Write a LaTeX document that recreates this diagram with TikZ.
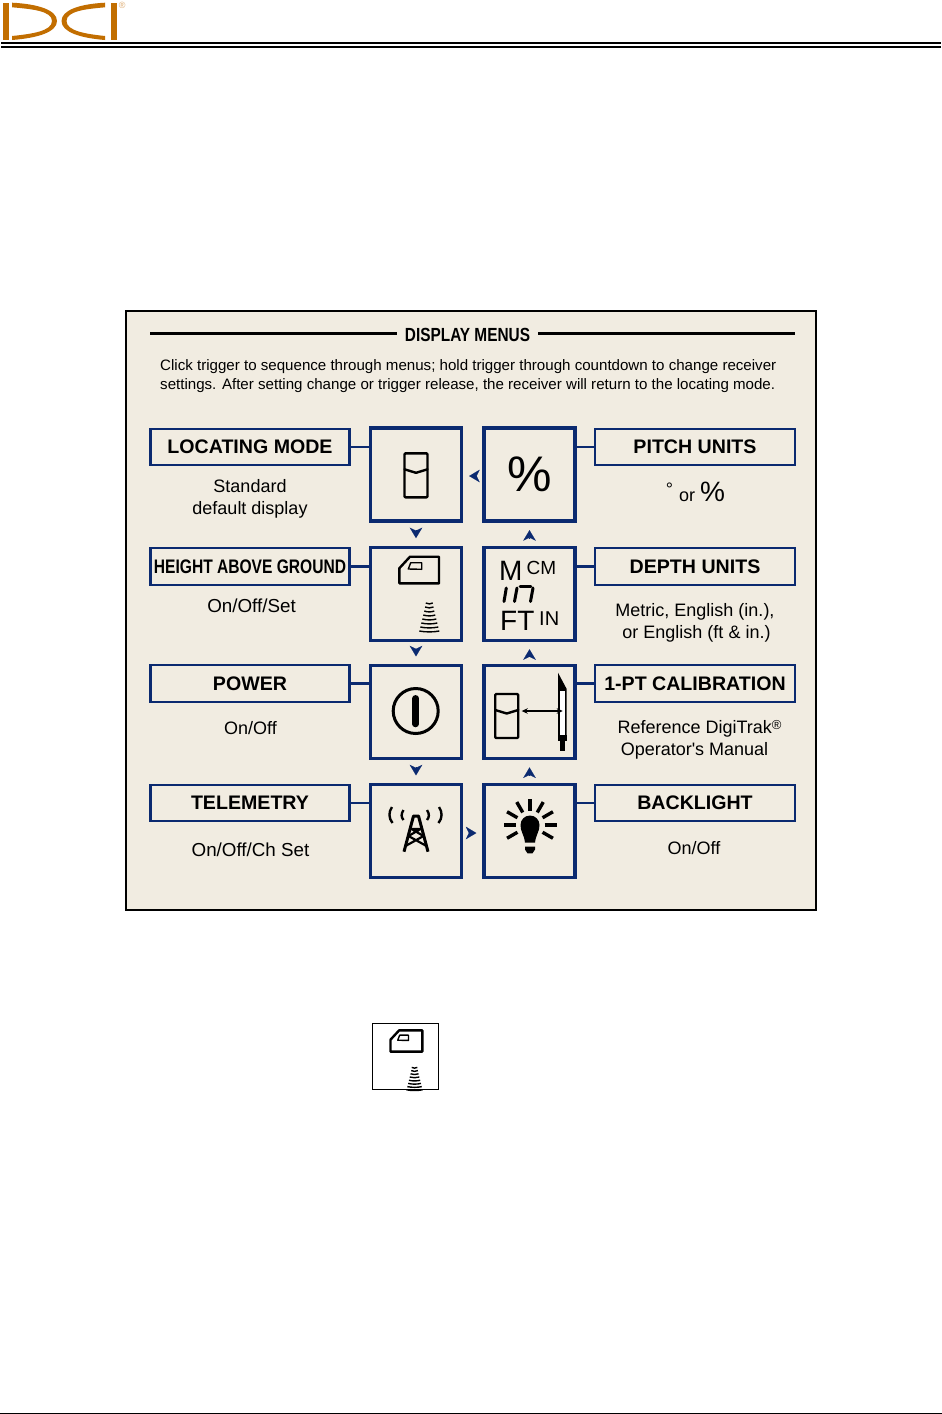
\documentclass[tikz,border=0pt]{standalone}
\usepackage{fontspec}
\setmainfont{Liberation Sans}[Ligatures=TeXOff]
\usetikzlibrary{arrows.meta,positioning,calc}
\definecolor{Navy}{HTML}{0B2A70}
\definecolor{Panel}{HTML}{F1ECE1}
\definecolor{Logo}{HTML}{C26E00}
\definecolor{LogoSoft}{HTML}{DDAA70}
\tikzset{
 menulabel/.style={draw=Navy, line width=2.3pt, fill=Panel, minimum width=199pt, minimum height=36.5pt, inner sep=0pt, font=\fontsize{19.6}{22}\selectfont\bfseries},
 rightlabel/.style={menulabel, line width=2pt, minimum width=200pt},
 iconbox/.style={draw=Navy, line width=3.3pt, minimum width=91pt, minimum height=93pt, inner sep=0pt},
 note/.style={align=center, inner sep=0pt, font=\fontsize{18}{22}\selectfont},
 widenote/.style={note, font=\fontsize{18.8}{22}\selectfont},
 link/.style={draw=Navy, line width=2.3pt},
 flow/.style={-{Stealth[length=10.5pt,width=12.5pt,inset=3pt]}, draw=Navy, fill=Navy, line width=.1pt, shorten <=#1, shorten >=#1},
 glyph/.style={draw=black, line width=2.4pt, line join=round, line cap=round},
 pics/receiver/.style={code={
  \draw[glyph,rounded corners=1pt] (-11.5,-22) rectangle (11.5,22);
  \draw[glyph] (-11.5,-6) -- (0,-2.5) -- (11.5,-6);
 }},
 pics/aboveground/.style={code={
  \draw[glyph] (-19.7,-1.7) -- (-9,-13.3) -- (20,-13.3) -- (20,13.3) -- (-19.7,13.3) -- cycle;
  \draw[glyph,line width=1.4pt] (-10.7,-1) -- (-8.3,-7.3) -- (2.7,-7.3) -- (2.7,-.7) -- cycle;
  \foreach \r/\h in {33/3.5,37/4.2,41/5,45/6,49/7,53/8,57/9,61/10}
   \draw[glyph,line width=1.4pt,line cap=butt] (10.3-\h,\r) .. controls (10.3-.4*\h,\r+1.2) and (10.3+.4*\h,\r+1.2) .. (10.3+\h,\r);
 }}
}
\begin{document}
\begin{tikzpicture}[x=1pt,y=-1pt]
\useasboundingbox (0,0) rectangle (942,1414);
\fill[white] (0,0) rectangle (942,1414);
% page header
\fill[Logo] (3,2.5) rectangle (9,40);
\fill[Logo] (111,2.5) rectangle (117,40);
\fill[Logo] (12,2.7) .. controls (38,4) and (57,10) .. (57,21) .. controls (57,32) and (38,38) .. (12,40) -- (12,36) .. controls (32,34) and (52,31) .. (52,21) .. controls (52,11) and (32,9) .. (12,7.3) -- cycle;
\fill[Logo] (105,2.7) .. controls (80,4) and (61.5,10) .. (61.5,21) .. controls (61.5,32) and (80,38) .. (105,40) -- (105,36) .. controls (86,34) and (66.5,31) .. (66.5,21) .. controls (66.5,11) and (86,9) .. (105,7.3) -- cycle;
\node[inner sep=0pt,text=LogoSoft,font=\fontsize{9}{9}\selectfont] (logoMark) at (122.3,5.7) {®};
\fill[black] (1,42) rectangle (941,44.2);
\fill[black] (1,46) rectangle (941,48);
\fill[black] (0,1412.5) rectangle (942,1413.5);
% panel
\node[draw=black,line width=1.1pt,fill=Panel,minimum width=690pt,minimum height=599pt,inner sep=0pt] (panel) at (471,610.5) {};
\node[inner sep=0pt,font=\fontsize{19}{22}\selectfont\bfseries] (title) at (467.5,335) {\scalebox{.81}[1]{DISPLAY MENUS}};
\coordinate (ruleLeft) at (150,333.5);
\coordinate (ruleRight) at (795,333.5);
\draw[line width=2.2pt] (ruleLeft) -- (397,333.5);
\draw[line width=2.2pt] (538,333.5) -- (ruleRight);
\node[align=left,inner sep=0pt,anchor=north west,font=\fontsize{15.1}{19}\selectfont] (intro) at (160,359) {Click trigger to sequence through menus; hold trigger through countdown to change receiver\\settings. After setting change or trigger release, the receiver will return to the locating mode.};
% left column
\node[menulabel] (lblLocating) at (250,447) {LOCATING MODE};
\node[menulabel] (lblHeight) at (250,566.5) {\scalebox{.795}[1]{HEIGHT ABOVE GROUND}};
\node[menulabel] (lblPower) at (250,683.5) {POWER};
\node[menulabel] (lblTelemetry) at (250,803) {TELEMETRY};
\node[note] (noteLocating) at (250,498.5) {Standard\\default display};
\node[widenote] (noteHeight) at (251.5,606) {On/Off/Set};
\node[note] (notePower) at (250.5,728) {On/Off};
\node[widenote] (noteTelemetry) at (250.5,850) {On/Off/Ch Set};
% icon boxes
\node[iconbox] (icnLocating) at (416,474.5) {};
\node[iconbox] (icnHeight) at (416,593.8) {};
\node[iconbox] (icnPower) at (416,711.8) {};
\node[iconbox] (icnTelemetry) at (416,831) {};
\node[iconbox] (icnPitch) at (529.5,474.5) {\fontsize{50}{50}\selectfont\%};
\node[iconbox] (icnDepth) at (529.5,593.8) {};
\node[iconbox] (icnCalib) at (529.5,711.8) {};
\node[iconbox] (icnBacklight) at (529.5,831) {};
% right column
\node[rightlabel] (lblPitch) at (695,447) {PITCH UNITS};
\node[rightlabel] (lblDepth) at (695,566.5) {DEPTH UNITS};
\node[rightlabel] (lblCalib) at (695,683.5) {1-PT CALIBRATION};
\node[rightlabel] (lblBacklight) at (695,803) {BACKLIGHT};
\node[note] (notePitch) at (695.5,491.5) {\raisebox{6pt}{°}\hspace{1pt} or {\fontsize{28}{28}\selectfont\%}};
\node[note] (noteDepth) at (695,623) {Metric, English (in.),\\\hspace*{3pt}or English (ft \& in.)};
\node[note] (noteCalib) at (699.5,740) {Reference DigiTrak{\fontsize{13}{13}\selectfont\raisebox{4pt}{®}}\\Operator's Manual\hspace*{10pt}};
\node[note] (noteBacklight) at (694,848) {On/Off};
% label links
\draw[link] (lblLocating.east) -- (lblLocating.east -| icnLocating.west);
\draw[link] (lblHeight.east) -- (lblHeight.east -| icnHeight.west);
\draw[link] (lblPower.east) -- (lblPower.east -| icnPower.west);
\draw[link] (lblTelemetry.east) -- (lblTelemetry.east -| icnTelemetry.west);
\draw[link] (lblPitch.west) -- (lblPitch.west -| icnPitch.east);
\draw[link] (lblDepth.west) -- (lblDepth.west -| icnDepth.east);
\draw[link] (lblCalib.west) -- (lblCalib.west -| icnCalib.east);
\draw[link] (lblBacklight.west) -- (lblBacklight.west -| icnBacklight.east);
% menu sequence
\draw[flow=7.5pt] (icnLocating) -- (icnHeight);
\draw[flow=7.3pt] (icnHeight) -- (icnPower);
\draw[flow=7.5pt] (icnPower) -- (icnTelemetry);
\draw[flow=6pt] ($(icnTelemetry.east)+(0,2)$) -- ($(icnBacklight.west)+(0,2)$);
\draw[flow=7.5pt] (icnBacklight) -- (icnCalib);
\draw[flow=7.3pt] (icnCalib) -- (icnDepth);
\draw[flow=7.5pt] (icnDepth) -- (icnPitch);
\draw[flow=6pt] ($(icnPitch.west)+(0,1.5)$) -- ($(icnLocating.east)+(0,1.5)$);
% glyphs
\pic at (416,475.3) {receiver};
\pic at (419,570) {aboveground};
\draw[line width=3pt] (415.7,711) circle (22.5);
\draw[line width=6.5pt,line cap=round] (415.7,698.3) -- (415.7,724);
\node[inner sep=0pt,anchor=base west,font=\fontsize{28}{28}\selectfont] (unitM) at (499,580) {M};
\node[inner sep=0pt,anchor=base west,font=\fontsize{19}{19}\selectfont] (unitCM) at (526.5,574.5) {CM};
\node[inner sep=0pt,anchor=base west,font=\fontsize{28}{28}\selectfont] (unitFT) at (500,630) {FT};
\node[inner sep=0pt,anchor=base west,font=\fontsize{20}{20}\selectfont] (unitIN) at (539,625) {IN};
\draw[glyph,line width=3pt] (506.3,588) -- (504,601.5);
\draw[glyph,line width=3pt] (517,588) -- (514.5,601.5);
\draw[glyph,line width=2.6pt] (520,586.5) -- (531,586.5);
\draw[glyph,line width=3pt] (533,588) -- (530.5,601.5);
\pic at (506.7,716) {receiver};
\fill[black] (558,672.7) -- (566.7,689) -- (566.7,736) -- (558,736) -- cycle;
\fill[white] (560,691) rectangle (565.2,735);
\draw[{Stealth[length=6pt,width=5.5pt]}-{Stealth[length=6pt,width=5.5pt]},line width=1.1pt] (521.7,711) -- (562.7,711);
\fill[black] (558,735) rectangle (567.3,740.7);
\fill[black] (560.3,740) rectangle (564.5,751);
% tower
\draw[glyph,line width=3pt,line cap=butt] (404,851.7) -- (413.5,816) -- (418.5,816) -- (428,851.7);
\draw[glyph,line width=2.2pt,line cap=butt] (405.5,846) -- (423.5,836) -- (411.5,829) -- (420.5,829) -- (408.5,836) -- (426.5,846);
\draw[glyph,line cap=butt] (392,807) .. controls (388.5,812) and (388.5,818) .. (392.5,823);
\draw[glyph,line cap=butt] (403.5,810) .. controls (401,814) and (401,817) .. (403.5,820);
\draw[glyph,line cap=butt] (439,807) .. controls (442.5,812) and (442.5,818) .. (438.5,823);
\draw[glyph,line cap=butt] (427,810) .. controls (429.5,814) and (429.5,817) .. (427,820);
% bulb
\foreach \ang in {30,0,-30,-60,-90,-120,-150,180,150}
 \draw[line width=3.4pt] (530,825) ++({\ang}:14.5) -- ++({\ang}:12);
\fill[black] (525,842.7) .. controls (524,834) and (520.5,832) .. (520.5,825) arc[start angle=180,end angle=360,radius=9.5] .. controls (539.5,832) and (536,834) .. (535,842.7) -- cycle;
\fill[black] (525,846.5) -- (535,846.5) -- (535,849.5) -- (532.5,853.3) -- (527.5,853.3) -- (525,849.5) -- cycle;
% symbol below panel
\node[draw=black,line width=1pt,fill=white,minimum width=66pt,minimum height=66pt,inner sep=0pt] (icnSample) at (405.5,1056.8) {};
\pic[scale=.8] at (406.3,1041) {aboveground};
\end{tikzpicture}
\end{document}
